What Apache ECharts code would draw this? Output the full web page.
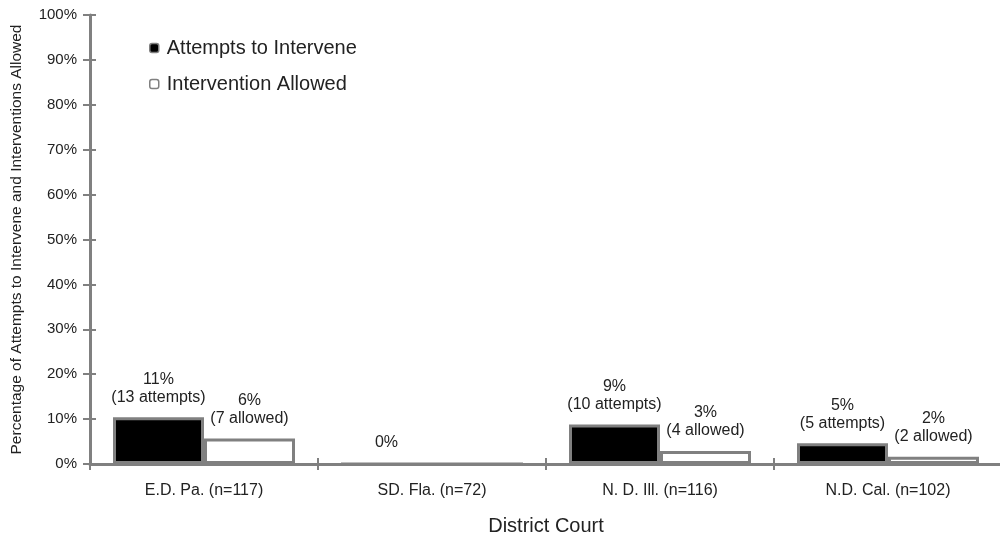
<!DOCTYPE html>
<html>
<head>
<meta charset="utf-8">
<script src="https://cdn.jsdelivr.net/npm/echarts@6/dist/echarts.min.js"></script>
<style>html,body{margin:0;padding:0;background:#fff;}#c{width:1000px;height:539px;}</style>
</head>
<body>
<div id="c"></div>
<script>
var categories = ['E.D. Pa. (n=117)', 'SD. Fla. (n=72)', 'N. D. Ill. (n=116)', 'N.D. Cal. (n=102)'];
var attempts = [10.4, 0, 8.8, 4.6];
var allowed = [5.7, 0, 2.9, 1.6];
var attemptLabels = ['11%\n(13 attempts)', '0%', '9%\n(10 attempts)', '5%\n(5 attempts)'];
var allowedLabels = ['6%\n(7 allowed)', '', '3%\n(4 allowed)', '2%\n(2 allowed)'];
var yMin = 0, yMax = 100, yInterval = 10;

var FONT = 'Liberation Sans';
var GRAY = '#808080';
var TXT = '#222';

var chart = echarts.init(document.getElementById('c'));
var labelStyle = {
  show: true, position: 'top', distance: 11, color: TXT,
  fontFamily: FONT, fontSize: 16, lineHeight: 18, align: 'center'
};
chart.setOption({
  animation: false,
  backgroundColor: '#fff',
  textStyle: { fontFamily: FONT },
  grid: { left: 90, right: -2, top: 15, bottom: 75, containLabel: false, outerBoundsMode: 'none' },
  legend: {
    orient: 'vertical', left: 144, top: 33, itemGap: 16,
    itemWidth: 9, itemHeight: 9,
    itemStyle: { borderWidth: 1.5, borderColor: GRAY },
    textStyle: { fontFamily: FONT, fontSize: 20, color: TXT, padding: [0, 0, 0, 3] },
    data: ['Attempts to Intervene', 'Intervention Allowed']
  },
  xAxis: [{
    type: 'category', data: categories, boundaryGap: true,
    name: 'District Court', nameLocation: 'middle', nameGap: 52,
    nameTextStyle: { fontFamily: FONT, fontSize: 20, color: TXT },
    axisLine: { lineStyle: { color: GRAY, width: 3 } },
    axisTick: { show: true, length: 6, lineStyle: { color: GRAY, width: 2 } },
    axisLabel: { margin: 19, fontFamily: FONT, fontSize: 16, color: TXT }
  }, {
    type: 'category', data: categories, boundaryGap: true, position: 'bottom',
    axisLine: { show: false },
    axisTick: { show: true, inside: true, length: 6, lineStyle: { color: GRAY, width: 2 } },
    axisLabel: { show: false }
  }],
  yAxis: [{
    type: 'value', min: yMin, max: yMax, interval: yInterval,
    name: 'Percentage of Attempts to Intervene and Interventions Allowed',
    nameLocation: 'middle', nameGap: 65, nameRotate: 90,
    nameTextStyle: { fontFamily: FONT, fontSize: 15.5, color: TXT },
    axisLine: { show: true, lineStyle: { color: GRAY, width: 3 } },
    axisTick: { show: true, length: 7, lineStyle: { color: GRAY, width: 2 } },
    axisLabel: { formatter: '{value}%', margin: 13, fontFamily: FONT, fontSize: 15, color: TXT },
    splitLine: { show: false }
  }, {
    type: 'value', min: yMin, max: yMax, interval: yInterval, position: 'left',
    axisLine: { show: false },
    axisTick: { show: true, inside: true, length: 6, lineStyle: { color: GRAY, width: 2 } },
    axisLabel: { show: false },
    splitLine: { show: false }
  }],
  series: [{
    name: 'Attempts to Intervene', type: 'bar', barWidth: 91, barGap: '0%',
    itemStyle: { color: '#000', borderColor: GRAY, borderWidth: 3 },
    label: Object.assign({}, labelStyle, { formatter: function (p) { return attemptLabels[p.dataIndex]; } }),
    data: attempts
  }, {
    name: 'Intervention Allowed', type: 'bar', barWidth: 91, barGap: '0%',
    itemStyle: { color: '#fff', borderColor: GRAY, borderWidth: 3 },
    label: Object.assign({}, labelStyle, { formatter: function (p) { return allowedLabels[p.dataIndex]; } }),
    data: allowed
  }]
});
</script>
</body>
</html>
